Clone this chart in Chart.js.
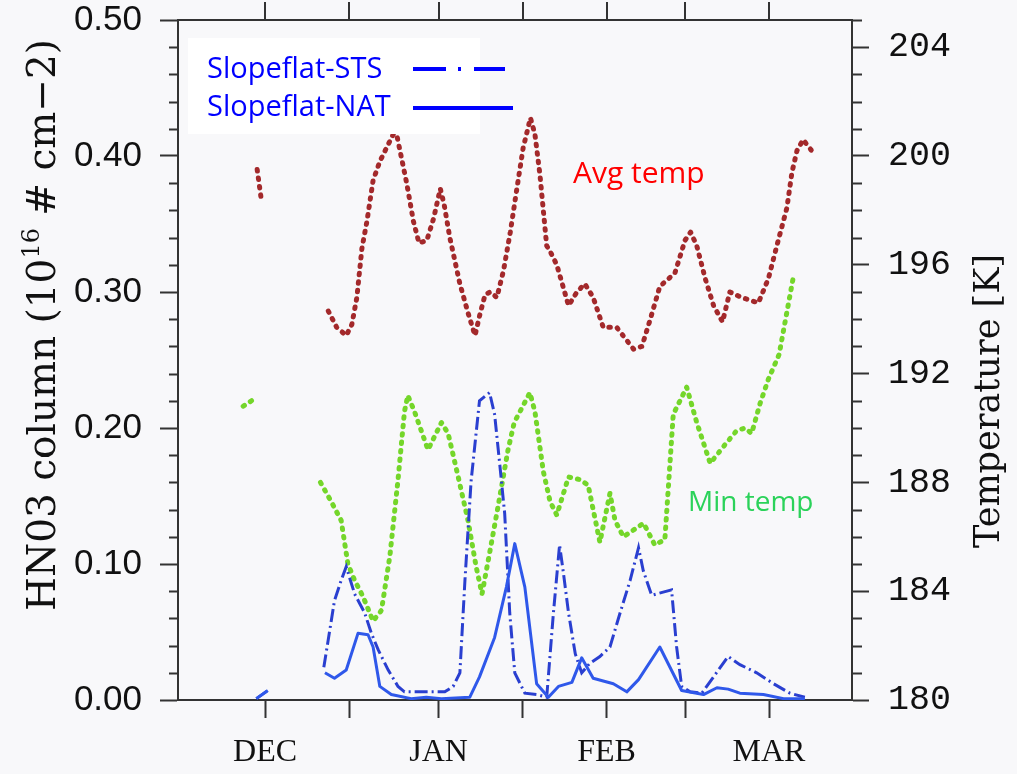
<!DOCTYPE html>
<html>
<head>
<meta charset="utf-8">
<script src="https://cdn.jsdelivr.net/npm/chart.js@4/dist/chart.umd.min.js"></script>
<style>
  html, body { margin: 0; padding: 0; background: #f8f8fa; }
  canvas { display: block; }
</style>
</head>
<body>
<canvas id="c" width="1017" height="774"></canvas>
<script>
// ---- x axis (days since 1 Dec) ----
const tickDays   = [0, 15, 31, 46, 61, 75, 90];
const tickLabels = ['DEC', '', 'JAN', '', 'FEB', '', 'MAR'];

// ---- Avg temp [K] (null = gap) ----
const avgDays = [-1.4,-0.6,5,11.3,12.8,14.5,15.5,16.4,17.3,18.2,19.3,20.5,21.7,22.9,23.5,24.4,25.3,26.5,27.5,28.9,30.1,31.3,32.0,33.0,34.8,36.3,37.5,38.4,39.3,40.2,41.4,42.6,43.8,44.9,46.1,47.4,48.2,49.1,50.3,50.9,52.1,54.2,55.7,57.1,58.6,60.4,62.8,65.8,67.3,68.8,70.5,73.2,75.0,76.0,77.1,78.6,80.1,81.7,83.0,85.1,88.1,89.9,91.4,93.2,94.1,95.0,96.1,97.6];
const avgTemp = [199.5,198.3,null,194.3,193.7,193.4,193.8,194.8,196.6,197.6,199.1,199.8,200.3,200.8,200.8,199.9,199.0,197.6,196.8,196.9,197.7,198.8,198.2,197.0,195.3,194.2,193.4,194.2,194.9,195.0,194.8,195.8,197.2,198.7,200.3,201.4,200.8,199.3,196.7,196.5,196.0,194.5,195.0,195.3,194.8,193.7,193.7,192.9,193.0,194.0,195.2,195.7,196.9,197.2,196.7,195.5,194.5,193.9,195.0,194.8,194.6,195.5,196.7,198.1,199.4,200.2,200.6,200.2];

// ---- Min temp [K] ----
const minDays = [-3.9,-1.7,4,9.9,11.8,13.6,14.8,16.0,17.5,19.3,20.8,22.3,23.75,24.9,25.5,26.7,29.1,31.5,32.7,34.5,36.25,37.7,38.75,40.1,41.6,43.4,44.5,47.3,48.2,49.7,50.9,52.1,54.2,56.25,57.7,59.8,61.6,62.5,64.0,67.6,69.6,71.4,72.9,75.3,77.1,79.5,81.8,84.2,85.7,86.9,88.4,89.9,91.8,94.3];
const minTemp = [190.8,191.1,null,188.0,187.3,186.6,185.0,184.4,183.8,182.9,183.3,185.3,188.1,190.6,191.2,190.6,189.2,190.2,189.8,188.2,186.6,184.9,183.9,185.4,187.1,189.2,190.2,191.3,190.6,188.4,187.3,186.8,188.2,188.1,187.9,185.8,187.6,186.6,186.0,186.5,185.7,185.9,190.5,191.5,190.2,188.7,189.3,189.9,190.0,189.8,190.9,191.8,192.7,195.5];

// ---- Slopeflat-STS HNO3 column ----
const stsDays = [-1.55,0.5,5,10.5,11.55,12.4,13.6,14.5,16.0,17.8,19.0,20.2,22.0,23.75,24.9,27.9,32.1,33.6,34.8,35.7,36.8,38.3,40.1,41.0,41.9,42.8,43.7,44.6,46.4,48.5,50.3,51.5,52.6,53.3,54.2,55.4,56.55,58.0,59.8,61.6,63.4,65.2,66.7,67.55,69.05,72.6,73.5,74.4,75.9,78.0,80.1,82.7,84.8,87.8,90.8,93.75,96.4];
const stsVals = [0.001,0.007,null,0.024,0.051,0.073,0.088,0.098,0.078,0.064,0.049,0.037,0.022,0.010,0.006,0.006,0.006,0.010,0.020,0.088,0.161,0.220,0.226,0.210,0.174,0.137,0.064,0.020,0.005,0.004,0.002,0.064,0.114,0.093,0.064,0.034,0.020,0.027,0.032,0.039,0.064,0.088,0.112,0.095,0.077,0.081,0.039,0.010,0.006,0.005,0.017,0.032,0.026,0.020,0.012,0.005,0.002];

// ---- Slopeflat-NAT HNO3 column ----
const natDays = [-1.55,0.5,5,10.7,12.4,14.5,16.6,18.4,19.3,20.5,22.55,26.1,28.8,31.5,36.55,38.3,41.0,43.1,44.6,46.4,48.5,50.6,52.4,54.8,56.55,58.6,62.2,64.6,66.7,70.5,74.4,78.3,80.7,82.7,84.8,89.0,92.6,96.4];
const natVals = [0.001,0.007,null,0.020,0.016,0.022,0.049,0.048,0.039,0.010,0.004,0.001,0.002,0.001,0.002,0.017,0.046,0.083,0.115,0.083,0.012,0.002,0.010,0.013,0.031,0.016,0.012,0.006,0.015,0.039,0.007,0.004,0.009,0.008,0.005,0.004,0.001,0.001];

const leftTicks = [0, 0.1, 0.2, 0.3, 0.4, 0.5];

const pts = (xs, ys) => xs.map((x, i) => ({ x: x, y: ys[i] }));

const AXIS = '#333333';

const decor = {
  id: 'decor',
  beforeDraw(chart) {
    const ctx = chart.ctx;
    ctx.save();
    ctx.fillStyle = '#f8f8fa';
    ctx.fillRect(0, 0, chart.width, chart.height);
    ctx.restore();
  },
  afterDraw(chart) {
    const ctx = chart.ctx;
    const a = chart.chartArea;
    const xs = chart.scales.x, ys = chart.scales.y, y1 = chart.scales.y1;
    ctx.save();
    ctx.strokeStyle = AXIS;
    ctx.lineWidth = 2;
    // top frame + top ticks
    ctx.beginPath();
    ctx.moveTo(a.left - 1, a.top); ctx.lineTo(a.right + 1, a.top);
    tickDays.forEach(d => {
      const px = Math.round(xs.getPixelForValue(d));
      ctx.moveTo(px, a.top); ctx.lineTo(px, a.top - 18);
    });
    ctx.stroke();
    // minor ticks left (every 0.02)
    ctx.beginPath();
    for (let i = 0; i <= 25; i++) {
      if (i % 5 === 0) continue;
      const py = Math.round(ys.getPixelForValue(i * 0.02)) + 0.5;
      ctx.moveTo(a.left - 9, py); ctx.lineTo(a.left, py);
    }
    // minor ticks right (every 1 K)
    for (let t = 181; t <= 205; t++) {
      if ((t - 180) % 4 === 0) continue;
      const py = Math.round(y1.getPixelForValue(t)) + 0.5;
      ctx.moveTo(a.right, py); ctx.lineTo(a.right + 10, py);
    }
    ctx.stroke();

    // left axis title (rotated, with superscript)
    ctx.fillStyle = '#111';
    ctx.textBaseline = 'middle';
    ctx.textAlign = 'left';
    const parts = [
      { t: 'HN03 column (10', s: 39, dy: 0 },
      { t: '16', s: 24, dy: -12 },
      { t: ' # cm\u22122)', s: 39, dy: 0 }
    ];
    let total = 0;
    parts.forEach(p => { ctx.font = p.s + 'px "DejaVu Serif"'; p.w = ctx.measureText(p.t).width; total += p.w; });
    ctx.save();
    ctx.translate(45, 325);
    ctx.rotate(-Math.PI / 2);
    let cx = -total / 2;
    parts.forEach(p => { ctx.font = p.s + 'px "DejaVu Serif"'; ctx.fillText(p.t, cx, p.dy); cx += p.w; });
    ctx.restore();

    // right axis title
    ctx.save();
    ctx.translate(990, 401);
    ctx.rotate(-Math.PI / 2);
    ctx.font = '35px "DejaVu Serif"';
    ctx.textAlign = 'center';
    ctx.fillText('Temperature [K]', 0, 0);
    ctx.restore();

    // legend box
    ctx.fillStyle = '#ffffff';
    ctx.fillRect(188, 38, 292, 96);
    ctx.fillStyle = '#0000ff';
    ctx.font = '29px "Open Sans"';
    ctx.textBaseline = 'alphabetic';
    ctx.textAlign = 'left';
    ctx.fillText('Slopeflat-STS', 207, 78);
    ctx.fillText('Slopeflat-NAT', 207, 116);
    ctx.strokeStyle = '#0000ff';
    ctx.lineWidth = 4;
    ctx.setLineDash([33, 12, 3, 13]);
    ctx.beginPath(); ctx.moveTo(413, 69); ctx.lineTo(505, 69); ctx.stroke();
    ctx.setLineDash([]);
    ctx.beginPath(); ctx.moveTo(413, 108); ctx.lineTo(513, 108); ctx.stroke();

    // annotations
    ctx.font = '30px "Open Sans"';
    ctx.fillStyle = '#ff0000';
    ctx.fillText('Avg temp', 573, 183);
    ctx.font = '28px "Open Sans"';
    ctx.fillStyle = '#2bd25a';
    ctx.fillText('Min temp', 688, 511);
    ctx.restore();
  }
};

const gridOpts = (len) => ({
  display: true,
  drawOnChartArea: false,
  drawTicks: true,
  tickLength: len,
  tickColor: AXIS,
  tickWidth: 2
});

const fixV = (w) => (s) => { s.width = w; s.paddingTop = 0; s.paddingBottom = 0; };

new Chart(document.getElementById('c'), {
  type: 'line',
  data: {
    datasets: [
      {
        label: 'Slopeflat-NAT', data: pts(natDays, natVals), yAxisID: 'y',
        borderColor: '#2f58ea', borderWidth: 3, borderJoinStyle: 'round', fill: false
      },
      {
        label: 'Slopeflat-STS', data: pts(stsDays, stsVals), yAxisID: 'y',
        borderColor: '#2a3fd0', borderWidth: 3, borderDash: [13, 4, 2, 4], fill: false
      },
      {
        label: 'Avg temp', data: pts(avgDays, avgTemp), yAxisID: 'y1',
        borderColor: '#a3292b', borderWidth: 5, borderDash: [1.5, 7], borderCapStyle: 'round',
        borderJoinStyle: 'round', fill: false
      },
      {
        label: 'Min temp', data: pts(minDays, minTemp), yAxisID: 'y1',
        borderColor: '#74d62a', borderWidth: 5, borderDash: [1.5, 7], borderCapStyle: 'round',
        borderJoinStyle: 'round', fill: false
      }
    ]
  },
  options: {
    responsive: false,
    animation: false,
    devicePixelRatio: 1,
    layout: { padding: { top: 20, left: 0, right: 0, bottom: 0 } },
    elements: { point: { radius: 0, hoverRadius: 0 }, line: { tension: 0 } },
    plugins: { legend: { display: false }, tooltip: { enabled: false } },
    scales: {
      x: {
        type: 'linear', position: 'bottom',
        min: -15.54, max: 104.82,
        afterBuildTicks: s => { s.ticks = tickDays.map(v => ({ value: v })); },
        afterFit: s => { s.height = 74; s.paddingLeft = 0; s.paddingRight = 0; },
        grid: gridOpts(18),
        border: { display: true, color: AXIS, width: 2 },
        ticks: {
          autoSkip: false, maxRotation: 0, padding: 15, color: '#111',
          font: { family: 'Liberation Serif', size: 32 },
          callback: v => { const i = tickDays.indexOf(v); return i >= 0 ? tickLabels[i] : ''; }
        }
      },
      y: {
        type: 'linear', position: 'left', min: 0, max: 0.5,
        afterBuildTicks: s => { s.ticks = leftTicks.map(v => ({ value: v })); },
        afterFit: fixV(178),
        grid: gridOpts(18),
        border: { display: true, color: AXIS, width: 2 },
        ticks: {
          padding: 18, color: '#111',
          font: { family: 'Liberation Sans', size: 35 },
          callback: v => Number(v).toFixed(2)
        }
      },
      y1: {
        type: 'linear', position: 'right', min: 180, max: 205,
        afterFit: fixV(165),
        grid: gridOpts(17),
        border: { display: true, color: AXIS, width: 2 },
        ticks: {
          stepSize: 4, includeBounds: false, padding: 19, color: '#111',
          font: { family: 'Liberation Mono', size: 35 }
        }
      }
    }
  },
  plugins: [decor]
});
</script>
</body>
</html>
